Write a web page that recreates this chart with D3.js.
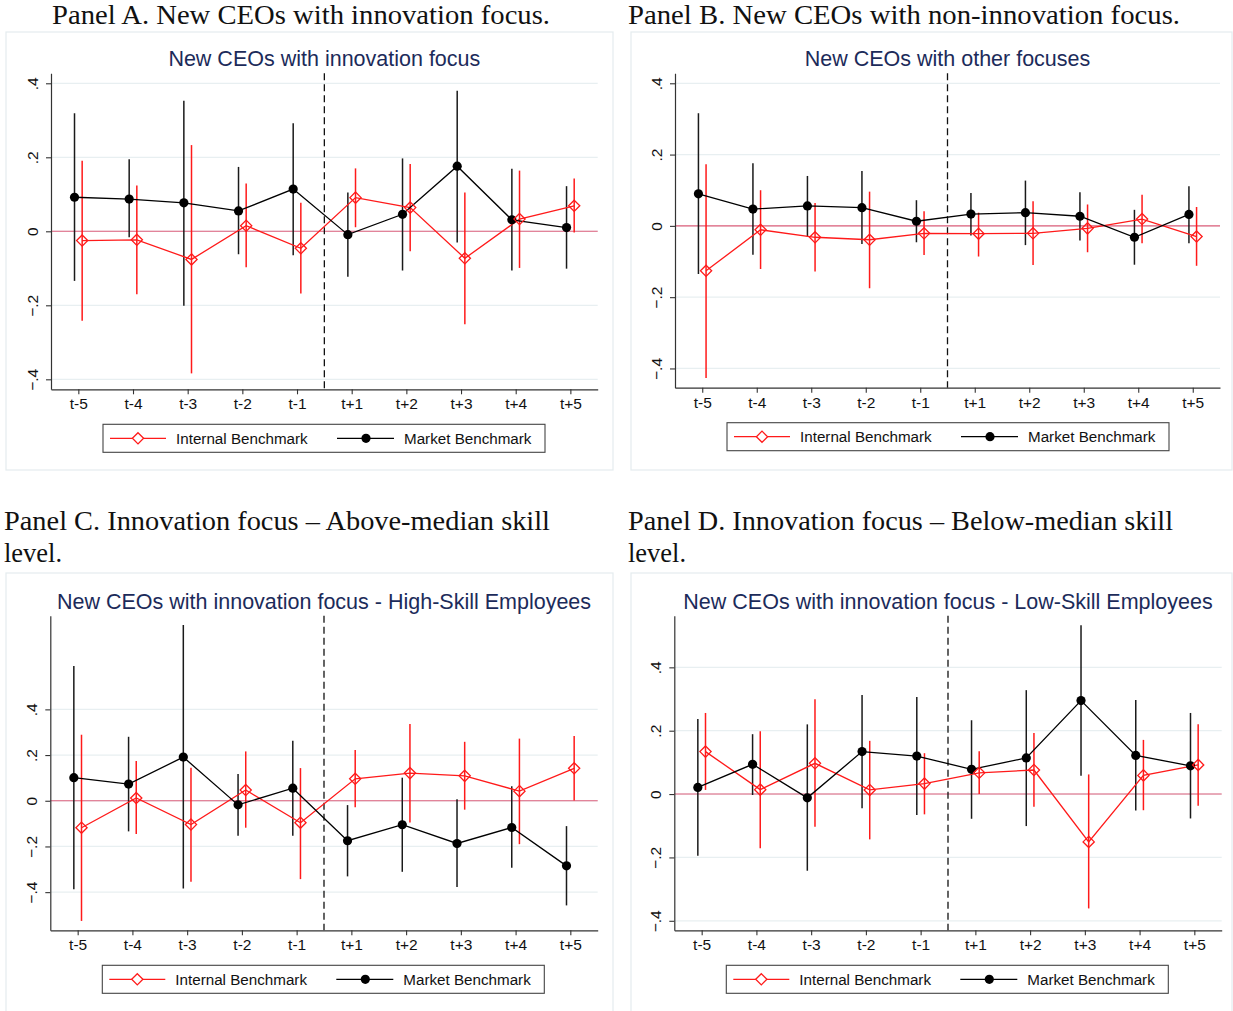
<!DOCTYPE html>
<html>
<head>
<meta charset="utf-8">
<script src="https://cdn.jsdelivr.net/npm/d3@7"></script>
<style>
  body { margin: 0; background: #fff; }
  svg { display: block; }
</style>
</head>
<body>
<div id="chart"></div>
<script>
// Event-time labels (x axis)
const periods = ['t-5', 't-4', 't-3', 't-2', 't-1', 't+1', 't+2', 't+3', 't+4', 't+5'];
const yTicks = [-0.4, -0.2, 0, 0.2, 0.4];
const legendLabels = ['Internal Benchmark', 'Market Benchmark'];

// Panel A - innovation focus
const aIntEst = [-0.025, -0.023, -0.076, 0.015, -0.046, 0.091, 0.064, -0.073, 0.033, 0.069];
const aIntLo  = [-0.242, -0.170, -0.384, -0.097, -0.168, 0.011, -0.054, -0.251, -0.099, -0.003];
const aIntHi  = [0.191, 0.124, 0.233, 0.129, 0.077, 0.170, 0.182, 0.105, 0.164, 0.143];
const aMktEst = [0.092, 0.087, 0.077, 0.055, 0.114, -0.009, 0.046, 0.176, 0.031, 0.010];
const aMktLo  = [-0.134, -0.016, -0.201, -0.062, -0.065, -0.123, -0.106, -0.030, -0.106, -0.101];
const aMktHi  = [0.319, 0.195, 0.353, 0.174, 0.292, 0.105, 0.197, 0.380, 0.169, 0.122];

// Panel B - other focuses
const bIntEst = [-0.126, -0.011, -0.032, -0.039, -0.021, -0.022, -0.021, -0.007, 0.019, -0.030];
const bIntLo  = [-0.427, -0.121, -0.128, -0.175, -0.082, -0.086, -0.110, -0.074, -0.049, -0.112];
const bIntHi  = [0.173, 0.100, 0.064, 0.096, 0.041, 0.037, 0.069, 0.060, 0.087, 0.053];
const bMktEst = [0.090, 0.047, 0.056, 0.051, 0.013, 0.033, 0.037, 0.027, -0.032, 0.032];
const bMktLo  = [-0.135, -0.081, -0.030, -0.051, -0.046, -0.027, -0.054, -0.041, -0.109, -0.049];
const bMktHi  = [0.316, 0.176, 0.140, 0.154, 0.072, 0.092, 0.127, 0.094, 0.045, 0.111];

// Panel C - high-skill employees
const cIntEst = [-0.118, 0.012, -0.104, 0.047, -0.096, 0.096, 0.121, 0.109, 0.042, 0.142];
const cIntLo  = [-0.526, -0.145, -0.355, -0.118, -0.343, -0.028, -0.095, -0.039, -0.190, 0.001];
const cIntHi  = [0.289, 0.174, 0.145, 0.216, 0.143, 0.222, 0.336, 0.258, 0.272, 0.283];
const cMktEst = [0.101, 0.073, 0.191, -0.018, 0.055, -0.175, -0.105, -0.187, -0.117, -0.285];
const cMktLo  = [-0.387, -0.134, -0.384, -0.153, -0.153, -0.331, -0.311, -0.377, -0.293, -0.458];
const cMktHi  = [0.590, 0.280, 0.769, 0.117, 0.263, -0.019, 0.101, 0.007, 0.063, -0.111];

// Panel D - low-skill employees
const dIntEst = [0.134, 0.014, 0.097, 0.013, 0.033, 0.067, 0.076, -0.151, 0.059, 0.092];
const dIntLo  = [0.013, -0.171, -0.103, -0.143, -0.064, 0.000, -0.040, -0.361, -0.051, -0.037];
const dIntHi  = [0.256, 0.198, 0.299, 0.168, 0.129, 0.135, 0.193, 0.062, 0.171, 0.220];
const dMktEst = [0.021, 0.094, -0.012, 0.134, 0.120, 0.078, 0.114, 0.295, 0.122, 0.089];
const dMktLo  = [-0.195, -0.003, -0.242, -0.045, -0.066, -0.078, -0.101, 0.058, -0.052, -0.077];
const dMktHi  = [0.237, 0.189, 0.220, 0.313, 0.306, 0.233, 0.328, 0.533, 0.297, 0.256];

const RED = '#ff1a1a';
const BLACK = '#000';
const SANS = '"Liberation Sans", Arial, Helvetica, sans-serif';
const SERIF = '"Liberation Serif", "Times New Roman", serif';

const svg = d3.select('#chart').append('svg')
    .attr('width', 1233)
    .attr('height', 1011);

// hw = heading widths, used to stretch the serif text like the paper's font
const panels = [
    { heading: ['Panel A. New CEOs with innovation focus.'], hw: [498], hx: 52, hy: 24,
      title: 'New CEOs with innovation focus',
      box: [6, 32, 607, 438], plot: [51, 73.3, 597.7, 389.3], yDomain: [-0.427, 0.427],
      int: [aIntEst, aIntLo, aIntHi], mkt: [aMktEst, aMktLo, aMktHi] },
    { heading: ['Panel B. New CEOs with non-innovation focus.'], hw: [552], hx: 628, hy: 24,
      title: 'New CEOs with other focuses',
      box: [631, 32, 601, 438], plot: [675, 73.3, 1220, 387.7], yDomain: [-0.454, 0.428],
      int: [bIntEst, bIntLo, bIntHi], mkt: [bMktEst, bMktLo, bMktHi] },
    { heading: ['Panel C. Innovation focus \u2013 Above-median skill', 'level.'], hw: [546, 58], hx: 4, hy: 530,
      title: 'New CEOs with innovation focus - High-Skill Employees',
      box: [6, 573, 607, 440], plot: [50.3, 615.7, 597.7, 930.3], yDomain: [-0.567, 0.81],
      int: [cIntEst, cIntLo, cIntHi], mkt: [cMktEst, cMktLo, cMktHi] },
    { heading: ['Panel D. Innovation focus \u2013 Below-median skill', 'level.'], hw: [545, 58], hx: 628, hy: 530,
      title: 'New CEOs with innovation focus - Low-Skill Employees',
      box: [631, 573, 601, 440], plot: [674.3, 615.7, 1221.7, 930.3], yDomain: [-0.430, 0.563],
      int: [dIntEst, dIntLo, dIntHi], mkt: [dMktEst, dMktLo, dMktHi] }
];

const fmt = (v) => v === 0 ? '0' : d3.format('.1f')(v).replace('0.', '.');

function diamond(r) {
    return `M0,${-r}L${r},0L0,${r}L${-r},0Z`;
}

function drawPanel(p) {
    const [x0, y0, x1, y1] = p.plot;

    // Heading above the panel (serif, like the paper)
    p.heading.forEach((line, i) => {
        svg.append('text')
            .attr('x', p.hx).attr('y', p.hy + i * 32)
            .attr('textLength', p.hw[i]).attr('lengthAdjust', 'spacingAndGlyphs')
            .style('font-family', SERIF).style('font-size', '27px').attr('fill', '#111')
            .text(line);
    });

    // Graph region frame
    svg.append('rect')
        .attr('x', p.box[0]).attr('y', p.box[1])
        .attr('width', p.box[2]).attr('height', p.box[3])
        .attr('fill', '#fff').attr('stroke', '#e4ecee').attr('stroke-width', 1.2);

    const xScale = d3.scaleLinear().domain([-0.5, 9.5]).range([x0, x1]);
    const yScale = d3.scaleLinear().domain(p.yDomain).range([y1, y0]);

    const g = svg.append('g');

    // Title
    g.append('text')
        .attr('x', (x0 + x1) / 2).attr('y', y0 - 7)
        .attr('text-anchor', 'middle')
        .style('font-family', SANS).style('font-size', '21.5px')
        .attr('fill', '#1c2b5a')
        .text(p.title);

    // Grid lines
    g.selectAll('.grid')
        .data(yTicks)
        .join('line')
        .attr('x1', x0).attr('x2', x1)
        .attr('y1', d => yScale(d)).attr('y2', d => yScale(d))
        .attr('stroke', '#e8eff1').attr('stroke-width', 1.3);

    // Zero reference line
    g.append('line')
        .attr('x1', x0).attr('x2', x1)
        .attr('y1', yScale(0)).attr('y2', yScale(0))
        .attr('stroke', '#e0607c').attr('stroke-width', 1.1);

    // Event date marker between t-1 and t+1
    g.append('line')
        .attr('x1', xScale(4.5)).attr('x2', xScale(4.5))
        .attr('y1', y0).attr('y2', y1)
        .attr('stroke', '#111').attr('stroke-width', 1.3)
        .attr('stroke-dasharray', '7,4');

    // Axes
    const xAxis = d3.axisBottom(xScale)
        .tickValues(d3.range(periods.length))
        .tickFormat(i => periods[i])
        .tickSize(5).tickSizeOuter(0).tickPadding(4);
    const yAxis = d3.axisLeft(yScale)
        .tickValues(yTicks)
        .tickFormat(fmt)
        .tickSize(5).tickSizeOuter(0);

    const gx = g.append('g')
        .attr('transform', 'translate(0,' + y1 + ')')
        .call(xAxis);
    gx.selectAll('text').style('font-family', SANS).style('font-size', '15.5px').attr('fill', '#111');

    const gy = g.append('g')
        .attr('transform', 'translate(' + x0 + ',0)')
        .call(yAxis);
    gy.selectAll('text')
        .attr('x', 0).attr('y', 0).attr('dy', 0)
        .attr('text-anchor', 'middle')
        .attr('transform', 'translate(-13,0) rotate(-90)')
        .style('font-family', SANS).style('font-size', '15.5px').attr('fill', '#111');
    [gx, gy].forEach(a => {
        a.select('.domain').attr('stroke', '#333').attr('stroke-width', 1.2);
        a.selectAll('.tick line').attr('stroke', '#333').attr('stroke-width', 1.1);
    });

    // Series: internal (red hollow diamonds) and market (black dots)
    const series = [
        { key: 'int', vals: p.int, off: 0.07, color: RED },
        { key: 'mkt', vals: p.mkt, off: -0.07, color: BLACK }
    ];

    series.forEach(s => {
        const rows = periods.map((t, i) => ({ i: i, est: s.vals[0][i], lo: s.vals[1][i], hi: s.vals[2][i] }));
        // confidence intervals
        g.selectAll('.ci-' + s.key)
            .data(rows)
            .join('line')
            .attr('x1', d => xScale(d.i + s.off)).attr('x2', d => xScale(d.i + s.off))
            .attr('y1', d => yScale(d.lo)).attr('y2', d => yScale(d.hi))
            .attr('stroke', s.key === 'int' ? RED : '#1a1a1a').attr('stroke-width', 1.5);
        s.rows = rows;
    });

    series.forEach(s => {
        const line = d3.line()
            .x(d => xScale(d.i + s.off))
            .y(d => yScale(d.est));
        g.append('path')
            .datum(s.rows)
            .attr('d', line)
            .attr('fill', 'none')
            .attr('stroke', s.color).attr('stroke-width', 1.3);
    });

    // markers
    const mk = series[1];
    g.selectAll('.dot')
        .data(mk.rows)
        .join('circle')
        .attr('cx', d => xScale(d.i + mk.off)).attr('cy', d => yScale(d.est))
        .attr('r', 4.6).attr('fill', BLACK);
    const ik = series[0];
    g.selectAll('.dia')
        .data(ik.rows)
        .join('path')
        .attr('transform', d => 'translate(' + xScale(d.i + ik.off) + ',' + yScale(d.est) + ')')
        .attr('d', diamond(5.6))
        .attr('fill', 'none').attr('stroke', RED).attr('stroke-width', 1.3);

    // Legend
    const lx = x0 + 52, ly = y1 + 35, lw = 442, lh = 28, lm = ly + lh / 2;
    const leg = g.append('g');
    leg.append('rect')
        .attr('x', lx).attr('y', ly).attr('width', lw).attr('height', lh)
        .attr('fill', '#fff').attr('stroke', '#444').attr('stroke-width', 1.1);
    leg.append('line').attr('x1', lx + 7).attr('x2', lx + 63).attr('y1', lm).attr('y2', lm)
        .attr('stroke', RED).attr('stroke-width', 1.3);
    leg.append('path').attr('transform', 'translate(' + (lx + 35) + ',' + lm + ')')
        .attr('d', diamond(5.6)).attr('fill', '#fff').attr('stroke', RED).attr('stroke-width', 1.3);
    leg.append('line').attr('x1', lx + 234).attr('x2', lx + 291).attr('y1', lm).attr('y2', lm)
        .attr('stroke', BLACK).attr('stroke-width', 1.3);
    leg.append('circle').attr('cx', lx + 263).attr('cy', lm).attr('r', 4.6).attr('fill', BLACK);
    [[lx + 73, legendLabels[0]], [lx + 301, legendLabels[1]]].forEach(([tx, label]) => {
        leg.append('text')
            .attr('x', tx).attr('y', lm + 5.5)
            .style('font-family', SANS).style('font-size', '15.2px').attr('fill', '#111')
            .text(label);
    });
}

panels.forEach(drawPanel);
</script>
</body>
</html>
